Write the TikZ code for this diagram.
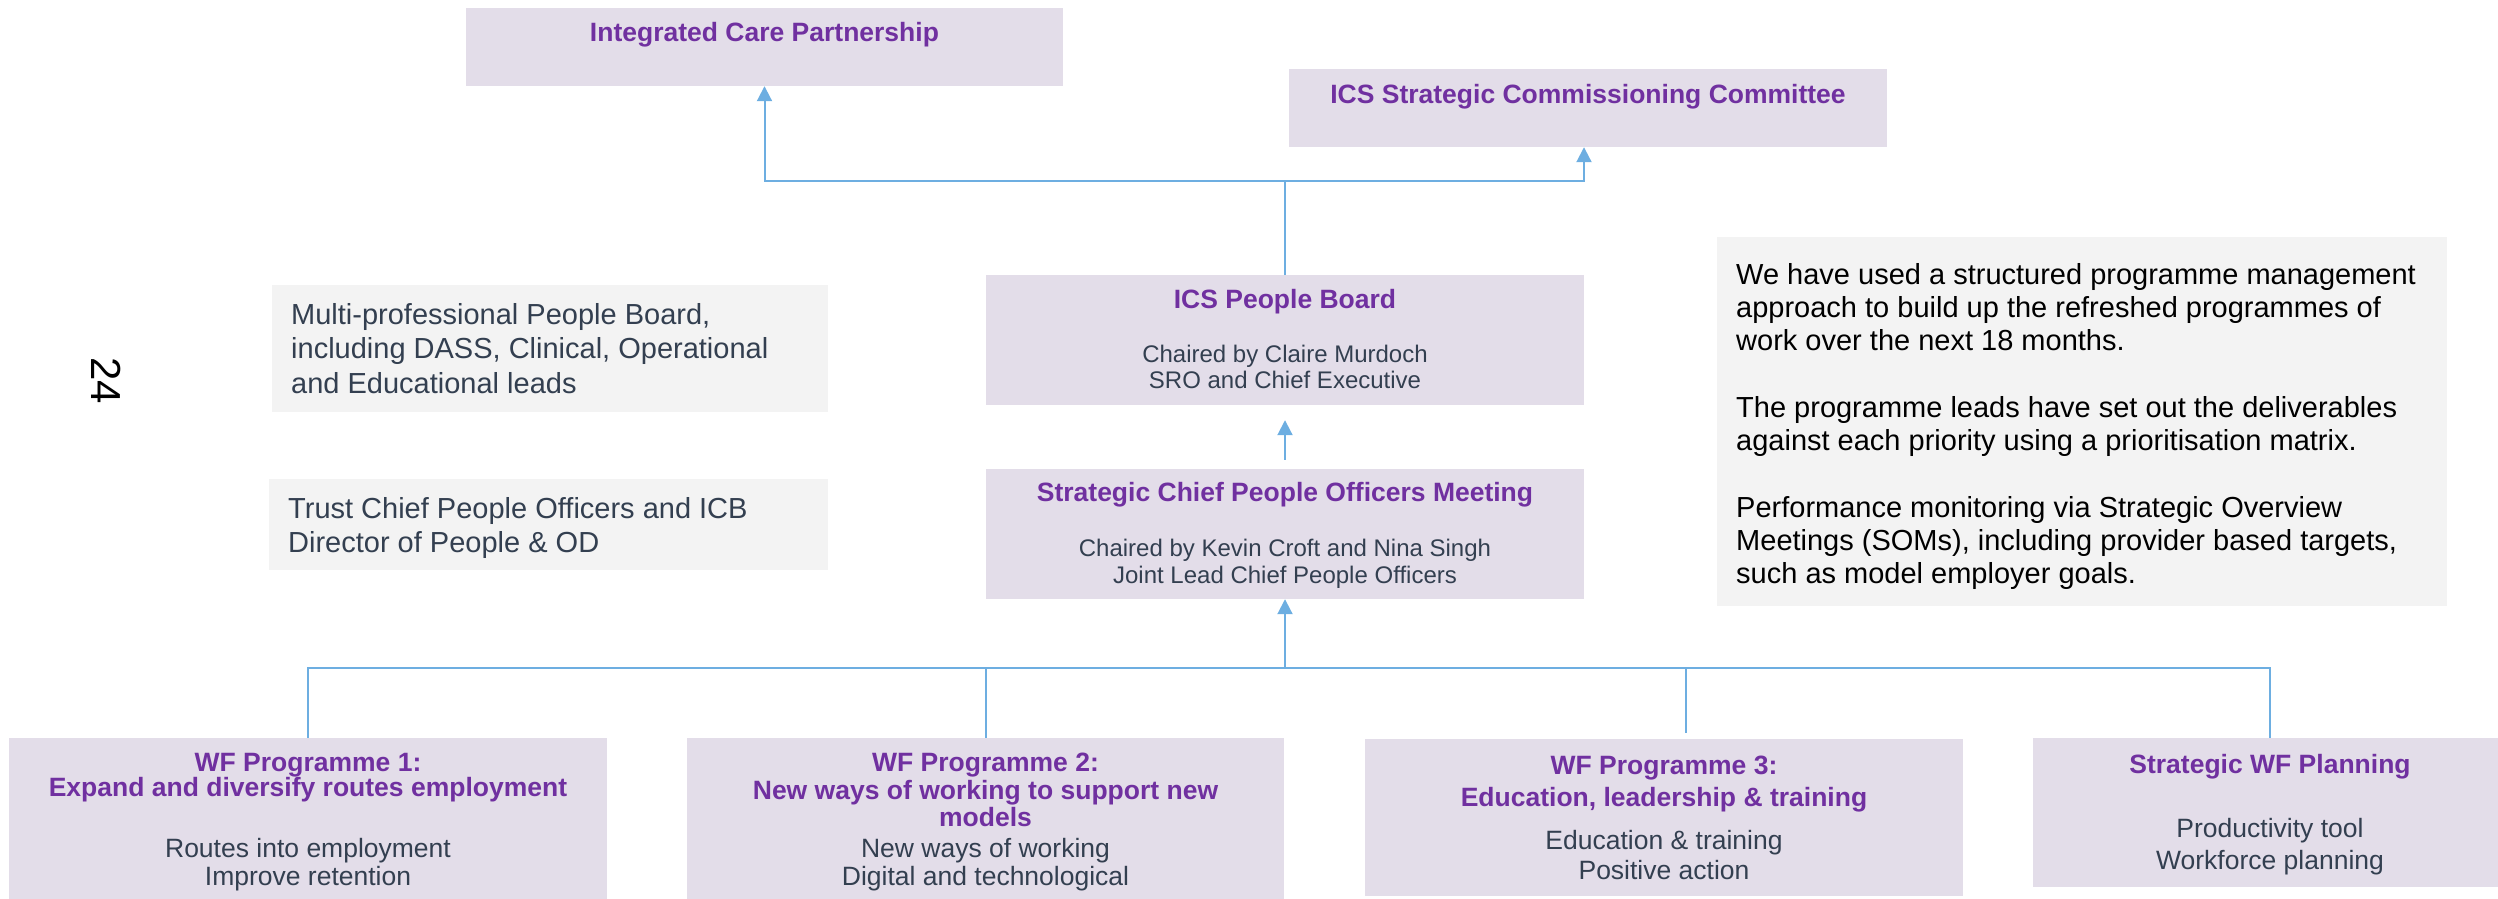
\documentclass[tikz,border=0pt]{standalone}
\usepackage{fontspec}
\setmainfont{Liberation Sans}
\usetikzlibrary{arrows.meta}
\definecolor{lavbg}{HTML}{E3DDE9}
\definecolor{greybg}{HTML}{F3F3F3}
\definecolor{ttlpurple}{HTML}{7030A0}
\definecolor{bodytext}{HTML}{333F50}
\definecolor{connblue}{HTML}{6DAEE1}
\tikzset{
  lav/.style={fill=lavbg, draw=none, inner sep=0pt},
  greybox/.style={fill=greybg, draw=none, inner sep=0pt},
  ttl/.style={text=ttlpurple, font=\bfseries\fontsize{26.5}{27.5}\selectfont, align=center, inner sep=0pt, anchor=north},
  bdy/.style={text=bodytext, font=\fontsize{24}{28}\selectfont, align=center, inner sep=0pt, anchor=north},
  side/.style={text=bodytext, font=\fontsize{29}{34.5}\selectfont, align=left, inner sep=0pt, anchor=north west},
  conn/.style={draw=connblue, line width=2pt},
  arr/.style={conn, -{Triangle[length=15pt,width=15pt]}},
}
\begin{document}
\begin{tikzpicture}[x=1pt,y=-1pt]
\useasboundingbox (0,0) rectangle (2498,899);

% boxes
\node[lav, minimum width=597pt, minimum height=78pt] (icp) at (764.5,47) {};
\node[lav, minimum width=598pt, minimum height=78pt] (scc) at (1588,108) {};
\node[lav, minimum width=598pt, minimum height=130pt] (pb) at (1285,340) {};
\node[lav, minimum width=598pt, minimum height=130pt] (scpo) at (1285,534) {};
\node[greybox, minimum width=556pt, minimum height=127pt] (multi) at (550,348.5) {};
\node[greybox, minimum width=559pt, minimum height=91pt] (trust) at (548.5,524.5) {};
\node[greybox, minimum width=730pt, minimum height=369pt] (note) at (2082,421.5) {};
\node[lav, minimum width=598pt, minimum height=167pt] (wf1) at (308,821.5) {};
\node[lav, minimum width=597pt, minimum height=167pt] (wf2) at (985.5,821.5) {};
\node[lav, minimum width=598pt, minimum height=157pt] (wf3) at (1664,817.5) {};
\node[lav, minimum width=474pt, minimum height=149pt] (swf) at (2270,812.5) {};

% texts
\node[ttl] (icp-t) at (764.5,22) {Integrated Care Partnership};
\node[ttl] (scc-t) at (1588,84) {ICS Strategic Commissioning Committee};
\node[ttl] (pb-t) at (1285,289) {ICS People Board};
\node[bdy, font=\fontsize{24}{26.5}\selectfont] (pb-b) at (1285,344.5) {Chaired by Claire Murdoch\\SRO and Chief Executive};
\node[ttl] (scpo-t) at (1285,482) {Strategic Chief People Officers Meeting};
\node[bdy, font=\fontsize{24}{27}\selectfont] (scpo-b) at (1285,538.5) {Chaired by Kevin Croft and Nina Singh\\Joint Lead Chief People Officers};

\node[side] (multi-t) at (291,303) {Multi-professional People Board,\\including DASS, Clinical, Operational\\and Educational leads};
\node[side] (trust-t) at (288,497) {Trust Chief People Officers and ICB\\Director of People \& OD};

\node[side, text=black, font=\fontsize{29}{33.3}\selectfont] (note-t) at (1736,263) {We have used a structured programme management\\approach to build up the refreshed programmes of\\work over the next 18 months.\\[33.3pt]The programme leads have set out the deliverables\\against each priority using a prioritisation matrix.\\[33.3pt]Performance monitoring via Strategic Overview\\Meetings (SOMs), including provider based targets,\\such as model employer goals.};

\node[ttl, font=\bfseries\fontsize{26.5}{25.5}\selectfont] (wf1-t) at (308,753) {WF Programme 1:\\Expand and diversify routes employment};
\node[bdy, font=\fontsize{26.5}{28}\selectfont] (wf1-b) at (308,837.7) {Routes into employment\\Improve retention};
\node[ttl, font=\bfseries\fontsize{26.5}{27.5}\selectfont] (wf2-t) at (985.5,753) {WF Programme 2:\\New ways of working to support new\\models};
\node[bdy, font=\fontsize{26.5}{28}\selectfont] (wf2-b) at (985.5,837.7) {New ways of working\\Digital and technological};
\node[ttl, font=\bfseries\fontsize{26.5}{32}\selectfont] (wf3-t) at (1664,756) {WF Programme 3:\\Education, leadership \& training};
\node[bdy, font=\fontsize{26.5}{30}\selectfont] (wf3-b) at (1664,829.7) {Education \& training\\Positive action};
\node[ttl] (swf-t) at (2270,754) {Strategic WF Planning};
\node[bdy, font=\fontsize{26.5}{32}\selectfont] (swf-b) at (2270,817.7) {Productivity tool\\Workforce planning};

\node[rotate=-90, font=\fontsize{42}{48}\selectfont, inner sep=0pt] (pgno) at (106,381) {24};

% connectors top
\coordinate (topj) at (1285,181);
\draw[conn] (pb.north) -- (topj);
\draw[arr] (topj) -| (icp.south);
\draw[arr] (topj) -| ([xshift=-4pt]scc.south);
\draw[arr, shorten <=9pt, shorten >=15pt] (scpo.north) -- (pb.south);

% connectors bottom
\coordinate (bus) at (1285,668);
\draw[conn] (wf1.north) |- (bus);
\draw[conn] (wf2.north) -- (wf2.north |- bus);
\draw[conn, shorten <=6pt] ([xshift=22pt]wf3.north) -- ([xshift=22pt]wf3.north |- bus);
\draw[conn] (swf.north) |- (bus);
\draw[arr] (bus) -- (scpo.south);
\end{tikzpicture}
\end{document}
